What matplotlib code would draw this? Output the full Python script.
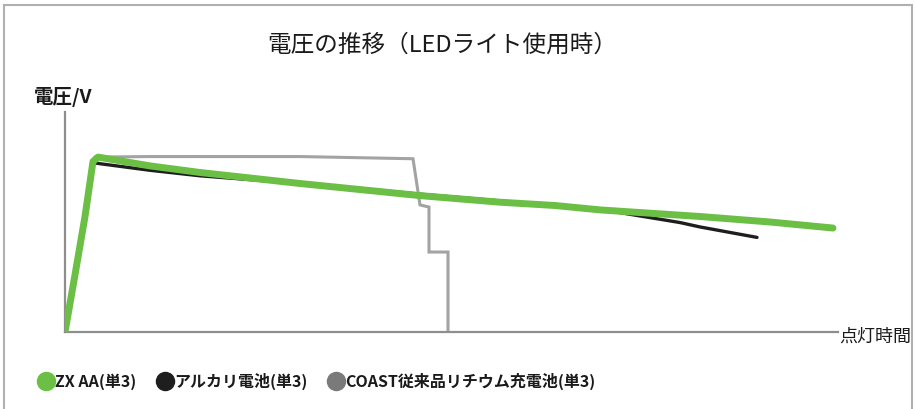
import matplotlib
matplotlib.use('Agg')
import matplotlib.pyplot as plt
from matplotlib.lines import Line2D
from matplotlib.patches import Rectangle

plt.rcParams['font.family'] = ['Noto Sans CJK JP', 'DejaVu Sans']

# ── Data (time in h, voltage in V) ────────────────────────────────────────
zx_time = [0, 0.2, 0.4, 0.56, 0.66, 1.7, 2.7, 4.7, 7.1, 8.7, 9.8, 10.7, 12.7, 14.1, 15.36]
zx_volt = [0, 0.52, 1.05, 1.55, 1.59, 1.51, 1.45, 1.35, 1.24, 1.18, 1.15, 1.11, 1.05, 1.00, 0.945]

alk_time = [0, 0.2, 0.4, 0.56, 0.7, 1.7, 2.7, 4.7, 7.3, 9.8, 10.7, 11.7, 12.3, 12.7, 13.84]
alk_volt = [0, 0.52, 1.05, 1.54, 1.53, 1.47, 1.42, 1.35, 1.245, 1.15, 1.115, 1.04, 0.995, 0.955, 0.86]

coast_time = [0, 0.6, 1.7, 4.7, 6.96, 7.1, 7.28, 7.28, 7.66, 7.66]
coast_volt = [0, 1.59, 1.595, 1.595, 1.575, 1.155, 1.136, 0.727, 0.727, 0]

labels = ['ZX AA(単3)', 'アルカリ電池(単3)', 'COAST従来品リチウム充電池(単3)']

GREEN = '#6BBF45'
BLACK = '#1E1E1E'
GRAY = '#A3A3A3'
AXIS = '#8E8E8E'

fig = plt.figure(figsize=(9.16, 4.09), dpi=100)
ax = fig.add_axes([65 / 916, 77 / 409, 773 / 916, 220 / 409])

ax.plot(coast_time, coast_volt, color=GRAY, lw=2.2, solid_joinstyle='miter', zorder=2)
ax.plot(alk_time, alk_volt, color=BLACK, lw=2.4, solid_capstyle='round', zorder=3)
ax.plot(zx_time, zx_volt, color=GREEN, lw=5, solid_capstyle='round',
        solid_joinstyle='round', zorder=4)

ax.set_xlim(0, 15.46)
ax.set_ylim(0, 2.0)
ax.set_xticks([])
ax.set_yticks([])
for side in ['top', 'right']:
    ax.spines[side].set_visible(False)
for side in ['left', 'bottom']:
    ax.spines[side].set_color(AXIS)
    ax.spines[side].set_linewidth(1.6)

# titles / axis captions
fig.text(442 / 916, 1 - 45 / 409, '電圧の推移（LEDライト使用時）',
         ha='center', va='center', fontsize=17, color='#1a1a1a')
fig.text(34 / 916, 1 - 97 / 409, '電圧/V', ha='left', va='center',
         fontsize=14, fontweight='bold', color='#1a1a1a')
fig.text(839 / 916, 1 - 337 / 409, '点灯時間', ha='left', va='center',
         fontsize=13, color='#1a1a1a')

# legend
handles = [Line2D([], [], ls='none', marker='o', markersize=13, color=c)
           for c in [GREEN, BLACK, '#7A7A7A']]
leg = fig.legend(handles, labels, loc='center left', ncol=3,
                 bbox_to_anchor=(32 / 916, 1 - 381 / 409), frameon=False,
                 borderpad=0, handlelength=0.8, handletextpad=0.15,
                 columnspacing=1.4, prop={'size': 11.5, 'weight': 'bold'})
for t in leg.get_texts():
    t.set_color('#1a1a1a')

# outer frame (open at the bottom)
fig.patches.append(Rectangle((4 / 916, -0.1), 908 / 916, 1.1 - 5 / 409,
                             transform=fig.transFigure, fill=False,
                             edgecolor='#B0B0B0', lw=1.5))

fig.savefig('out.png', dpi=100)
